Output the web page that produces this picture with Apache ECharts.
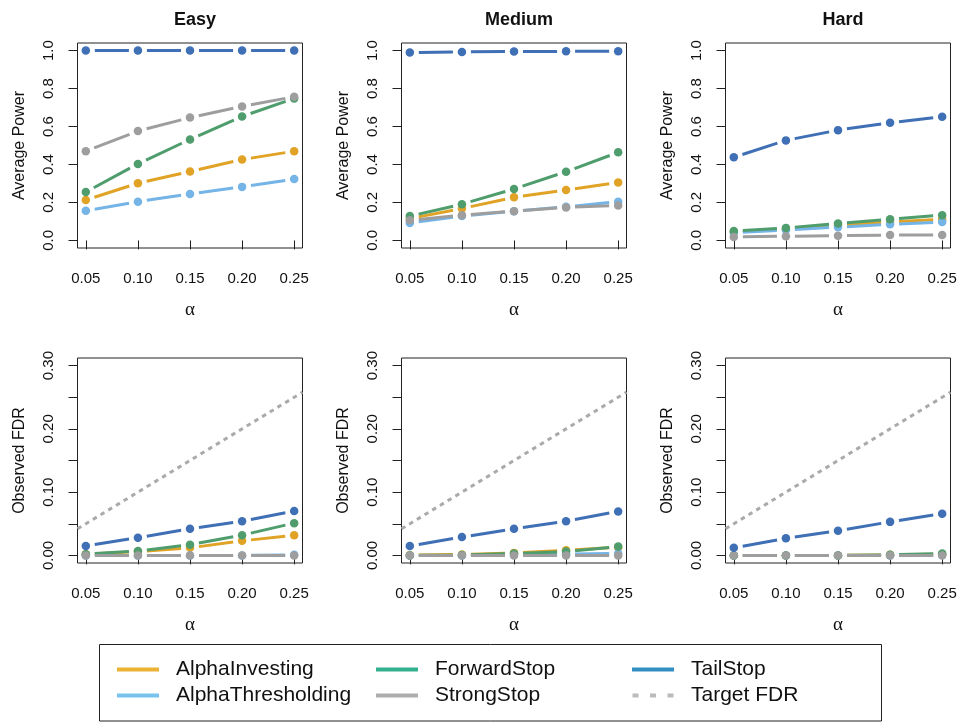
<!DOCTYPE html>
<html><head><meta charset="utf-8">
<script src="https://cdn.jsdelivr.net/npm/echarts@6/dist/echarts.min.js"></script>
<style>html,body{margin:0;padding:0;background:#fff}#chart{width:960px;height:722px}</style>
</head><body><div id="chart"></div>
<script>
// ---------- data ----------
const alpha = [0.05, 0.10, 0.15, 0.20, 0.25];
const methods = ['AlphaInvesting', 'AlphaThresholding', 'ForwardStop', 'StrongStop', 'TailStop'];
const difficulties = ['Easy', 'Medium', 'Hard'];

const powerTicks = [0, 0.2, 0.4, 0.6, 0.8, 1.0];
const fdrTicks = [0, 0.05, 0.10, 0.15, 0.20, 0.25, 0.30];
const fdrLabelTicks = [0, 0.10, 0.20, 0.30];

const easyPowerAlphaInvesting    = [0.213, 0.301, 0.363, 0.426, 0.470];
const easyPowerAlphaThresholding = [0.156, 0.204, 0.245, 0.282, 0.323];
const easyPowerForwardStop       = [0.255, 0.403, 0.532, 0.653, 0.748];
const easyPowerStrongStop        = [0.470, 0.576, 0.647, 0.706, 0.757];
const easyPowerTailStop          = [1.000, 1.000, 1.000, 1.000, 1.000];

const mediumPowerAlphaInvesting    = [0.115, 0.168, 0.227, 0.266, 0.305];
const mediumPowerAlphaThresholding = [0.092, 0.128, 0.154, 0.177, 0.204];
const mediumPowerForwardStop       = [0.128, 0.191, 0.271, 0.362, 0.464];
const mediumPowerStrongStop        = [0.106, 0.133, 0.154, 0.174, 0.184];
const mediumPowerTailStop          = [0.990, 0.993, 0.995, 0.996, 0.997];

const hardPowerAlphaInvesting    = [0.045, 0.060, 0.080, 0.097, 0.112];
const hardPowerAlphaThresholding = [0.040, 0.055, 0.070, 0.085, 0.097];
const hardPowerForwardStop       = [0.050, 0.066, 0.089, 0.112, 0.133];
const hardPowerStrongStop        = [0.018, 0.022, 0.025, 0.028, 0.029];
const hardPowerTailStop          = [0.438, 0.527, 0.581, 0.620, 0.651];

const easyFdrAlphaInvesting    = [0.002, 0.006, 0.012, 0.023, 0.032];
const easyFdrAlphaThresholding = [0.000, 0.000, 0.000, 0.000, 0.001];
const easyFdrForwardStop       = [0.002, 0.007, 0.017, 0.032, 0.051];
const easyFdrStrongStop        = [0.000, 0.000, 0.000, 0.000, 0.000];
const easyFdrTailStop          = [0.015, 0.028, 0.042, 0.054, 0.070];

const mediumFdrAlphaInvesting    = [0.0005, 0.0015, 0.004, 0.008, 0.013];
const mediumFdrAlphaThresholding = [0.000, 0.000, 0.001, 0.002, 0.003];
const mediumFdrForwardStop       = [0.000, 0.0005, 0.003, 0.006, 0.014];
const mediumFdrStrongStop        = [0.000, 0.000, 0.000, 0.000, 0.000];
const mediumFdrTailStop          = [0.015, 0.029, 0.042, 0.054, 0.0695];

const hardFdrAlphaInvesting    = [0.000, 0.000, 0.000, 0.001, 0.002];
const hardFdrAlphaThresholding = [0.000, 0.000, 0.000, 0.000, 0.001];
const hardFdrForwardStop       = [0.000, 0.000, 0.000, 0.001, 0.003];
const hardFdrStrongStop        = [0.000, 0.000, 0.000, 0.000, 0.000];
const hardFdrTailStop          = [0.012, 0.027, 0.039, 0.053, 0.066];

// ---------- styles ----------
const lineColors = {
  AlphaInvesting: '#E0A326', AlphaThresholding: '#74B4E6', ForwardStop: '#4F9D6D',
  StrongStop: '#9E9E9E', TailStop: '#3F6FB4'
};
const legendColors = {
  AlphaInvesting: '#E69F00', AlphaThresholding: '#56B4E9', ForwardStop: '#009E73',
  StrongStop: '#999999', TailStop: '#0072B2', 'Target FDR': '#AAAAAA'
};
const FONT = '"Liberation Sans", Arial, Helvetica, sans-serif';
const X_MIN = 0.042, X_MAX = 0.258;
const GAP = 9;

const panelData = [
  {
    AlphaInvesting: easyPowerAlphaInvesting, AlphaThresholding: easyPowerAlphaThresholding,
    ForwardStop: easyPowerForwardStop, StrongStop: easyPowerStrongStop, TailStop: easyPowerTailStop
  },
  {
    AlphaInvesting: mediumPowerAlphaInvesting, AlphaThresholding: mediumPowerAlphaThresholding,
    ForwardStop: mediumPowerForwardStop, StrongStop: mediumPowerStrongStop, TailStop: mediumPowerTailStop
  },
  {
    AlphaInvesting: hardPowerAlphaInvesting, AlphaThresholding: hardPowerAlphaThresholding,
    ForwardStop: hardPowerForwardStop, StrongStop: hardPowerStrongStop, TailStop: hardPowerTailStop
  },
  {
    AlphaInvesting: easyFdrAlphaInvesting, AlphaThresholding: easyFdrAlphaThresholding,
    ForwardStop: easyFdrForwardStop, StrongStop: easyFdrStrongStop, TailStop: easyFdrTailStop
  },
  {
    AlphaInvesting: mediumFdrAlphaInvesting, AlphaThresholding: mediumFdrAlphaThresholding,
    ForwardStop: mediumFdrForwardStop, StrongStop: mediumFdrStrongStop, TailStop: mediumFdrTailStop
  },
  {
    AlphaInvesting: hardFdrAlphaInvesting, AlphaThresholding: hardFdrAlphaThresholding,
    ForwardStop: hardFdrForwardStop, StrongStop: hardFdrStrongStop, TailStop: hardFdrTailStop
  }
];

const colLefts = [77.5, 401.5, 725.5];
const boxW = 225;
const rowTops = [43, 358];
const boxH = 205;

const rowCfg = [
  { yMin: -0.04, yMax: 1.04, ticks: powerTicks, labels: powerTicks, name: 'Average Power', digits: 1 },
  { yMin: -0.012, yMax: 0.312, ticks: fdrTicks, labels: fdrLabelTicks, name: 'Observed FDR', digits: 2 }
];

function segRenderer(color) {
  return function (params, api) {
    const p1 = api.coord([api.value(0), api.value(1)]);
    const p2 = api.coord([api.value(2), api.value(3)]);
    const dx = p2[0] - p1[0], dy = p2[1] - p1[1];
    const len = Math.sqrt(dx * dx + dy * dy);
    if (len <= 2 * GAP) return null;
    const ux = dx / len, uy = dy / len;
    return {
      type: 'line',
      shape: { x1: p1[0] + ux * GAP, y1: p1[1] + uy * GAP, x2: p2[0] - ux * GAP, y2: p2[1] - uy * GAP },
      style: { stroke: color, lineWidth: 3, fill: null }
    };
  };
}

const grids = [], xAxes = [], yAxes = [], series = [], titles = [];

// dummy series that define legend appearance
Object.keys(legendColors).forEach(function (name) {
  series.push({ type: 'scatter', name: name, data: [], xAxisIndex: 0, yAxisIndex: 0, itemStyle: { color: legendColors[name] } });
});

for (let i = 0; i < 6; i++) {
  const row = Math.floor(i / 3), col = i % 3;
  const cfg = rowCfg[row];
  grids.push({
    left: colLefts[col], top: rowTops[row], width: boxW, height: boxH,
    show: true, borderColor: '#222', borderWidth: 1, backgroundColor: 'transparent', containLabel: false
  });
  xAxes.push({
    type: 'value', gridIndex: i, min: X_MIN, max: X_MAX,
    splitLine: { show: false }, axisLine: { show: false },
    axisTick: { show: true, inside: false, length: 9, customValues: alpha, lineStyle: { color: '#222', width: 1 } },
    axisLabel: { show: true, customValues: alpha, margin: 23, fontSize: 15, color: '#111', fontFamily: FONT,
      formatter: function (v) { return v.toFixed(2); } },
    name: 'α', nameLocation: 'middle', nameGap: 53,
    nameTextStyle: { fontSize: 19, color: '#111', fontFamily: '"Liberation Serif", "DejaVu Serif", serif' }
  });
  yAxes.push({
    type: 'value', gridIndex: i, min: cfg.yMin, max: cfg.yMax,
    splitLine: { show: false }, axisLine: { show: false },
    axisTick: { show: true, inside: false, length: 9, customValues: cfg.ticks, lineStyle: { color: '#222', width: 1 } },
    axisLabel: { show: true, customValues: cfg.labels, rotate: 90, margin: 21, fontSize: 15, color: '#111', fontFamily: FONT,
      formatter: (function (d) { return function (v) { return v.toFixed(d); }; })(cfg.digits) },
    name: cfg.name, nameLocation: 'middle', nameRotate: 90, nameGap: 50,
    nameTextStyle: { fontSize: 16, color: '#111', fontFamily: FONT }
  });

  if (row === 1) {
    series.push({
      type: 'line', name: 'Target FDR', xAxisIndex: i, yAxisIndex: i, symbol: 'none', silent: true,
      data: [[X_MIN, X_MIN], [X_MAX, X_MAX]],
      lineStyle: { color: '#AAAAAA', width: 3, type: [4.5, 4.5] }
    });
  }

  const pd = panelData[i];
  methods.forEach(function (m) {
    const vals = pd[m];
    const segs = [];
    for (let k = 0; k < alpha.length - 1; k++) segs.push([alpha[k], vals[k], alpha[k + 1], vals[k + 1]]);
    series.push({
      type: 'custom', name: m, xAxisIndex: i, yAxisIndex: i, silent: true,
      renderItem: segRenderer(lineColors[m]), data: segs,
      encode: { x: [0, 2], y: [1, 3] }, itemStyle: { color: lineColors[m] }
    });
    series.push({
      type: 'scatter', name: m, xAxisIndex: i, yAxisIndex: i, silent: true,
      symbol: 'circle', symbolSize: 8.5,
      data: alpha.map(function (a, k) { return [a, vals[k]]; }),
      itemStyle: { color: lineColors[m], opacity: 1 }
    });
  });
}

difficulties.forEach(function (d, c) {
  titles.push({
    text: d, left: colLefts[c] + boxW / 2, top: 6, textAlign: 'center',
    textStyle: { fontSize: 18, fontWeight: 'bold', color: '#111', fontFamily: FONT }
  });
});

function legendCfg(left, names) {
  return {
    orient: 'vertical', left: left, top: 659, padding: 0,
    itemWidth: 42, itemHeight: 4, itemGap: 5, icon: 'rect', selectedMode: false,
    itemStyle: { borderWidth: 0 },
    textStyle: { fontSize: 21, color: '#111', fontFamily: FONT, padding: [0, 0, 0, 12] },
    data: names.map(function (n) {
      if (n === 'Target FDR') {
        return { name: n, icon: 'path://M0,0h6v4h-6z M17.5,0h6v4h-6z M35,0h6v4h-6z' };
      }
      return { name: n };
    })
  };
}

const option = {
  animation: false,
  backgroundColor: '#ffffff',
  title: titles,
  grid: grids,
  xAxis: xAxes,
  yAxis: yAxes,
  legend: [
    legendCfg(117, ['AlphaInvesting', 'AlphaThresholding']),
    legendCfg(376, ['ForwardStop', 'StrongStop']),
    legendCfg(632, ['TailStop', 'Target FDR'])
  ],
  graphic: [{
    type: 'rect', silent: true,
    shape: { x: 99.5, y: 644.5, width: 782, height: 76.5 },
    style: { fill: 'none', stroke: '#222', lineWidth: 1 }
  }],
  series: series
};

const chart = echarts.init(document.getElementById('chart'));
chart.setOption(option);
</script>
</body></html>
